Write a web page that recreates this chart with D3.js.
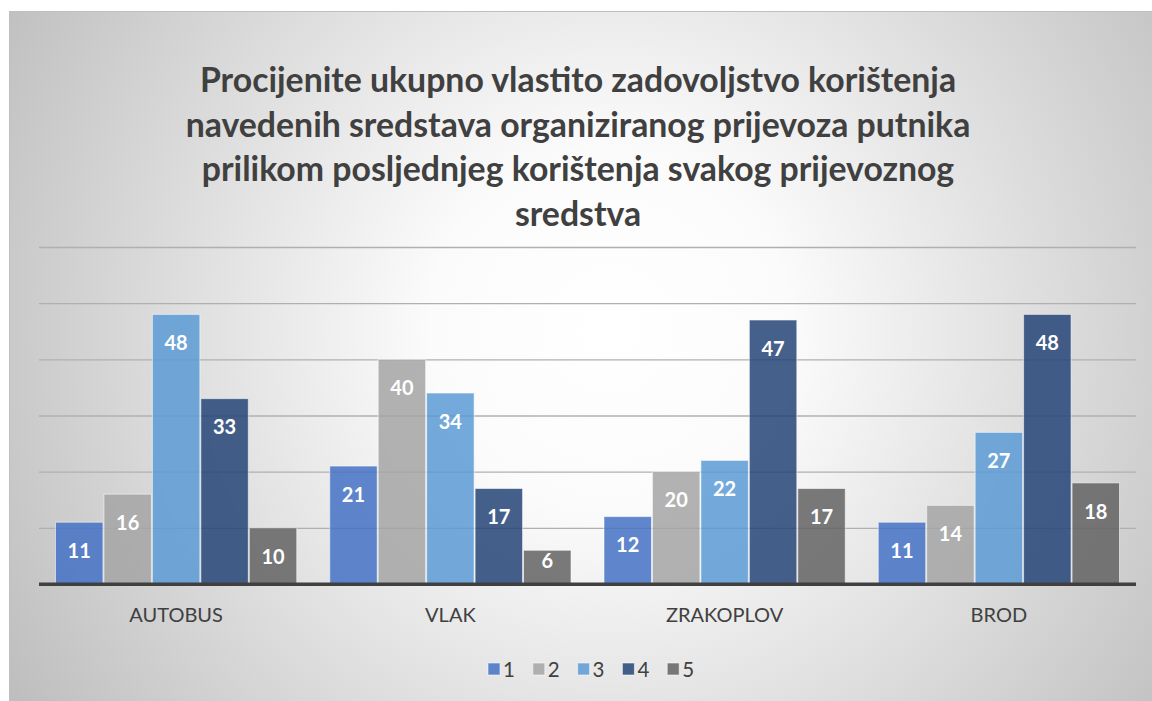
<!DOCTYPE html>
<html>
<head>
<meta charset="utf-8">
<script src="https://cdn.jsdelivr.net/npm/d3@7"></script>
<style>
  html, body { margin: 0; padding: 0; background: #ffffff; }
  svg { display: block; }
  text { font-family: Lato, "Open Sans", sans-serif; }
</style>
</head>
<body>
<svg id="chart" width="1152" height="701"></svg>
<script>
// Transport modes (x categories)
const categories = ["AUTOBUS", "VLAK", "ZRAKOPLOV", "BROD"];
// Satisfaction ratings 1–5 (series)
const seriesNames = ["1", "2", "3", "4", "5"];
// Counts per rating, one array per rating, ordered as categories
const rating1 = [11, 21, 12, 11];
const rating2 = [16, 40, 20, 14];
const rating3 = [48, 34, 22, 27];
const rating4 = [33, 17, 47, 48];
const rating5 = [10, 6, 17, 18];
const seriesValues = [rating1, rating2, rating3, rating4, rating5];
const yTicks = [0, 10, 20, 30, 40, 50, 60];
const titleLines = [
  "Procijenite ukupno vlastito zadovoljstvo korištenja",
  "navedenih sredstava organiziranog prijevoza putnika",
  "prilikom posljednjeg korištenja svakog prijevoznog",
  "sredstva"
];

const colors = ["#4472C4", "#A5A5A5", "#5B9BD5", "#264478", "#636363"];

const svg = d3.select("#chart");

// Chart area background: radial fade from white to grey
const defs = svg.append("defs");
const grad = defs.append("radialGradient")
  .attr("id", "bgGrad")
  .attr("gradientUnits", "userSpaceOnUse")
  .attr("cx", 610).attr("cy", 330).attr("r", 720);
grad.append("stop").attr("offset", 0).attr("stop-color", "#ffffff");
grad.append("stop").attr("offset", 0.25).attr("stop-color", "#fbfbfb");
grad.append("stop").attr("offset", 1).attr("stop-color", "#bcbcbc");

svg.append("rect")
  .attr("x", 9.5).attr("y", 11.5)
  .attr("width", 1160).attr("height", 700)
  .attr("fill", "url(#bgGrad)")
  .attr("stroke", "#bfbfbf").attr("stroke-width", 1);

// Plot geometry
const plot = { left: 39, right: 1136, top: 247, bottom: 584 };

const y = d3.scaleLinear().domain([0, 60]).range([plot.bottom, plot.top]);
const x0 = d3.scaleBand().domain(categories).range([plot.left, plot.right]).padding(0);
const groupPad = 16;
const x1 = d3.scaleBand().domain(seriesNames)
  .range([groupPad, x0.bandwidth() - groupPad]).padding(0);

// Horizontal gridlines
const grid = svg.append("g")
  .attr("transform", `translate(${plot.left},0)`)
  .call(d3.axisLeft(y).tickValues(yTicks.slice(1))
    .tickSize(-(plot.right - plot.left)).tickFormat(""));
grid.select(".domain").remove();
grid.selectAll(".tick line")
  .attr("stroke", "#b0b0b0").attr("stroke-width", 1.3);

// Bars
const rows = [];
seriesNames.forEach((s, si) => {
  categories.forEach((c, ci) => {
    rows.push({ series: s, si, category: c, value: seriesValues[si][ci] });
  });
});

const bars = svg.append("g");
bars.selectAll("rect")
  .data(rows)
  .join("rect")
  .attr("x", d => x0(d.category) + x1(d.series) + 0.5)
  .attr("y", d => y(d.value))
  .attr("width", x1.bandwidth() - 1)
  .attr("height", d => y(0) - y(d.value))
  .attr("fill", d => colors[d.si])
  .attr("fill-opacity", 0.85)
  .attr("stroke", "rgba(255,255,255,0.55)")
  .attr("stroke-width", 1);

// Value labels inside the bar ends
bars.selectAll("text")
  .data(rows)
  .join("text")
  .attr("x", d => x0(d.category) + x1(d.series) + x1.bandwidth() / 2)
  .attr("y", d => {
    const top = y(d.value);
    const h = y(0) - top;
    return top + Math.min(28.5, Math.max(10, h - 24));
  })
  .attr("dy", "0.36em")
  .attr("text-anchor", "middle")
  .attr("fill", "#ffffff")
  .attr("font-weight", 700)
  .attr("font-size", 20)
  .text(d => d.value);

// Category axis
const xAxis = svg.append("g")
  .attr("transform", `translate(0,${plot.bottom})`)
  .call(d3.axisBottom(x0).tickSize(0).tickPadding(23.5));
xAxis.select(".domain").remove();
xAxis.selectAll("text")
  .attr("font-family", "Lato, 'Open Sans', sans-serif")
  .attr("font-size", 20)
  .attr("fill", "#404040");

svg.append("line")
  .attr("x1", plot.left).attr("x2", plot.right)
  .attr("y1", plot.bottom + 0.3).attr("y2", plot.bottom + 0.3)
  .attr("stroke", "#404040").attr("stroke-width", 3.5);

// Title
svg.append("text")
  .attr("x", 578).attr("y", 92)
  .attr("text-anchor", "middle")
  .attr("font-weight", 700)
  .attr("font-size", 33.8)
  .attr("fill", "#404040")
  .selectAll("tspan")
  .data(titleLines)
  .join("tspan")
  .attr("x", 578)
  .attr("dy", (d, i) => i === 0 ? 0 : 44.5)
  .text(d => d);

// Legend
const legend = svg.append("g");
const legendX = 488, legendStep = 44.8, legendY = 663;
const items = legend.selectAll("g")
  .data(seriesNames)
  .join("g")
  .attr("transform", (d, i) => `translate(${legendX + i * legendStep},${legendY})`);
items.append("rect")
  .attr("width", 12).attr("height", 12)
  .attr("fill", (d, i) => colors[i])
  .attr("fill-opacity", 0.85)
  .attr("stroke", "rgba(255,255,255,0.55)");
items.append("text")
  .attr("x", 15).attr("y", 13.5)
  .attr("font-size", 20.5)
  .attr("fill", "#404040")
  .text(d => d);
</script>
</body>
</html>
